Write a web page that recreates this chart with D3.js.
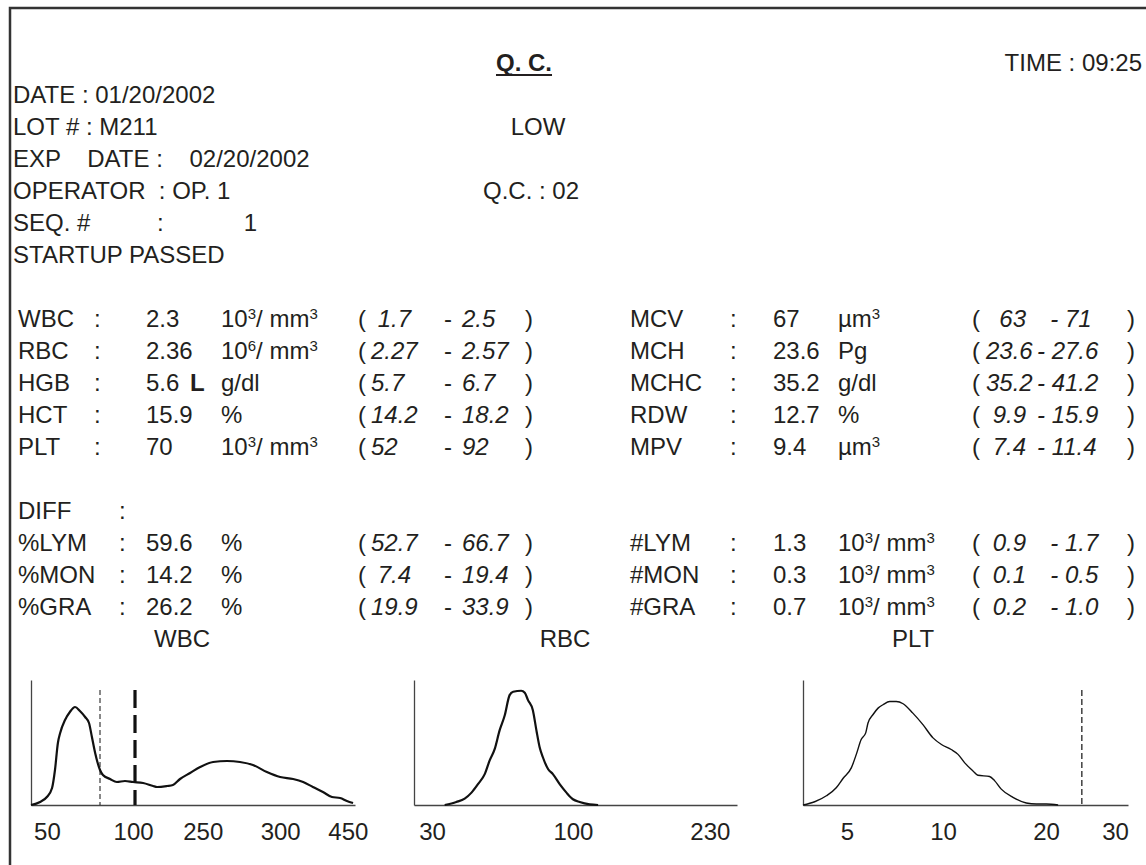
<!DOCTYPE html>
<html><head><meta charset="utf-8">
<script src="https://cdn.jsdelivr.net/npm/d3@7"></script>
<style>
body{margin:0;background:#fff}
text{font-family:"Liberation Sans",Arial,Helvetica,sans-serif;fill:#231f20;white-space:pre}
</style>
</head><body>
<svg id="c" width="1146" height="865" xml:space="preserve"></svg>
<script>
// ---------- header ----------
const reportTitle = "Q. C.";
const reportTime = "TIME : 09:25";
const headerLines = ["DATE : 01/20/2002", "LOT # : M211", "EXP    DATE :    02/20/2002", "OPERATOR  : OP. 1", "SEQ. #          :            1", "STARTUP PASSED"];
const controlLevel = "LOW";
const controlNo = "Q.C. : 02";

// ---------- CBC parameters ----------
const cbcLabels = ["WBC", "RBC", "HGB", "HCT", "PLT"];
const cbcValues = ["2.3", "2.36", "5.6", "15.9", "70"];
const cbcFlags = ["", "", "L", "", ""];
const cbcUnits = ["10^3/ mm^3", "10^6/ mm^3", "g/dl", "%", "10^3/ mm^3"];
const cbcLow = [" 1.7", "2.27", "5.7", "14.2", "52"];
const cbcHigh = ["2.5", "2.57", "6.7", "18.2", "92"];

const idxLabels = ["MCV", "MCH", "MCHC", "RDW", "MPV"];
const idxValues = ["67", "23.6", "35.2", "12.7", "9.4"];
const idxUnits = ["µm^3", "Pg", "g/dl", "%", "µm^3"];
const idxLow = ["  63", "23.6", "35.2", " 9.9", " 7.4"];
const idxHigh = ["  - 71", "- 27.6", "- 41.2", "- 15.9", "- 11.4"];

// ---------- differential ----------
const diffLabels = ["%LYM", "%MON", "%GRA"];
const diffValues = ["59.6", "14.2", "26.2"];
const diffUnits = ["%", "%", "%"];
const diffLow = ["52.7", " 7.4", "19.9"];
const diffHigh = ["66.7", "19.4", "33.9"];

const absLabels = ["#LYM", "#MON", "#GRA"];
const absValues = ["1.3", "0.3", "0.7"];
const absUnits = ["10^3/ mm^3", "10^3/ mm^3", "10^3/ mm^3"];
const absLow = [" 0.9", " 0.1", " 0.2"];
const absHigh = ["  - 1.7", "  - 0.5", "  - 1.0"];

// ---------- histograms (channel 0-100 along axis, relative count 0-100) ----------
const wbcChannel = [0, 2.8, 4.9, 6.5, 7.4, 8.3, 9.0, 10.5, 12.0, 13.6, 15.1, 16.7, 17.9, 18.8, 19.8, 21.3, 22.2, 24.4, 26.5, 29.0, 31.5, 34.6, 37.7, 38.9, 42.0, 43.8, 46.0, 49.1, 52.2, 56.2, 60.5, 64.5, 68.5, 72.8, 76.9, 80.9, 84.0, 87.0, 90.1, 92.9, 95.4, 97.5, 99.4];
const wbcCount = [0, 2.4, 6.4, 13.6, 28, 49.6, 57.6, 68, 74.4, 78.4, 75.2, 70.4, 65.6, 54.4, 41.6, 28, 24, 20.8, 18.4, 19.2, 18.4, 17.6, 15.2, 14.4, 15.2, 16, 20.8, 25.6, 30.4, 34.4, 35.2, 34.4, 32, 26.4, 22.4, 20.8, 18.4, 14.4, 10.4, 6.4, 5.6, 3.2, 1.6];
const wbcTickLabels = ["50", "100", "250", "300", "450"];
const wbcTickChannel = [4.9, 31.5, 53, 76.9, 97.8];
const wbcThinMarker = 21.3;
const wbcThickMarker = 32.1;

const rbcChannel = [9.5, 13.1, 15.7, 17.8, 19.8, 21.9, 23.4, 25.0, 26.5, 28.1, 29.6, 30.7, 33.2, 34.3, 35.3, 36.8, 37.9, 38.9, 39.9, 41.5, 43.0, 45.1, 47.2, 49.2, 51.3, 54.4, 57.0];
const rbcCount = [0, 2.4, 5.1, 9.9, 16.7, 24.7, 35.5, 44.9, 59.7, 71.8, 87.9, 90.6, 91.4, 89.8, 83.9, 75.8, 59.7, 46.2, 38.2, 28.8, 24.7, 16.7, 9.9, 4.6, 2.4, 0.5, 0];
const rbcTickLabels = ["30", "100", "230"];
const rbcTickChannel = [5.6, 49.2, 91.6];

const pltChannel = [0, 3.6, 7.2, 10.3, 12.3, 14.9, 16.4, 17.9, 19.3, 20.0, 21.5, 23.1, 24.6, 26.7, 28.7, 30.8, 33.8, 36.9, 40.0, 42.6, 45.6, 47.7, 49.7, 52.3, 53.8, 57.4, 59.0, 61.0, 64.6, 68.7, 71.8, 74.9, 78.5];
const pltCount = [0, 2.6, 7.4, 14.0, 21.2, 29.9, 40.5, 52.4, 57.7, 65.6, 72.2, 77.5, 80.2, 82.8, 82.8, 81.0, 73.5, 64.3, 53.7, 48.4, 44.4, 40.5, 33.9, 27.2, 23.8, 22.8, 19.3, 12.7, 6.1, 1.6, 0.8, 0.8, 0];
const pltTickLabels = ["5", "10", "20", "30"];
const pltTickChannel = [13.5, 43.1, 74.8, 96];
const pltMarker = 85.8;

// =====================================================
const svg = d3.select("#c");
const FS = 24;
const rowY = r => 71 + 32 * r;

// frame
svg.append("path").attr("d", "M10,865 L10,8 L1146,8")
  .attr("fill", "none").attr("stroke", "#333").attr("stroke-width", 2.5);

function txt(x, y, s, opts = {}) {
  const t = svg.append("text").attr("x", x).attr("y", y).attr("font-size", opts.size || FS)
    .attr("text-anchor", opts.anchor || "start").attr("xml:space", "preserve");
  if (opts.bold) t.attr("font-weight", "bold");
  if (opts.italic) t.attr("font-style", "italic");
  const parts = String(s).split(/\^(\d)/);
  let cur = 0;
  parts.forEach((p, i) => {
    if (!p) return;
    const sup = i % 2 === 1;
    const target = sup ? -8 : 0;
    const ts = t.append("tspan").text(p).attr("dy", target - cur);
    if (sup) ts.attr("font-size", 15);
    cur = target;
  });
  return t;
}

// header
const title = txt(524, rowY(0), reportTitle, { bold: true, anchor: "middle" });
const bb = title.node().getBBox();
svg.append("line").attr("x1", bb.x).attr("x2", bb.x + bb.width)
  .attr("y1", rowY(0) + 4).attr("y2", rowY(0) + 4).attr("stroke", "#231f20").attr("stroke-width", 2);
txt(1142, rowY(0), reportTime, { anchor: "end" });
headerLines.forEach((s, i) => txt(13, rowY(1 + i), s));
txt(538, rowY(2), controlLevel, { anchor: "middle" });
txt(483, rowY(4), controlNo);

// parameter table helpers
function leftRow(r, label, colonX, value, flag, unit, lo, hi) {
  const y = rowY(r);
  txt(18, y, label); txt(colonX, y, ":"); txt(146, y, value);
  if (flag) txt(190, y, flag, { bold: true });
  txt(221, y, unit);
  txt(358, y, "("); txt(371, y, lo, { italic: true }); txt(444, y, "-");
  txt(462, y, hi, { italic: true }); txt(525, y, ")");
}
function rightRow(r, label, value, unit, lo, hi) {
  const y = rowY(r);
  txt(630, y, label); txt(730, y, ":"); txt(773, y, value); txt(838, y, unit);
  txt(972, y, "("); txt(986, y, lo, { italic: true }); txt(1037, y, hi, { italic: true });
  txt(1127, y, ")");
}
cbcLabels.forEach((l, i) => leftRow(8 + i, l, 94, cbcValues[i], cbcFlags[i], cbcUnits[i], cbcLow[i], cbcHigh[i]));
idxLabels.forEach((l, i) => rightRow(8 + i, l, idxValues[i], idxUnits[i], idxLow[i], idxHigh[i]));
txt(18, rowY(14), "DIFF"); txt(119, rowY(14), ":");
diffLabels.forEach((l, i) => leftRow(15 + i, l, 119, diffValues[i], "", diffUnits[i], diffLow[i], diffHigh[i]));
absLabels.forEach((l, i) => rightRow(15 + i, l, absValues[i], absUnits[i], absLow[i], absHigh[i]));

// histograms
const histTop = 680, histBase = 805;
function histogram(name, x0, x1, titleX, ch, cnt, tickCh, tickLab, width, markers) {
  const x = d3.scaleLinear().domain([0, 100]).range([x0, x1]);
  const y = d3.scaleLinear().domain([0, 100]).range([histBase, histTop]);
  txt(titleX, rowY(18), name, { anchor: "middle" });
  const g = svg.append("g");
  const ax = g.append("g").attr("transform", `translate(0,${histBase})`)
    .call(d3.axisBottom(x).tickValues(tickCh).tickFormat((d, i) => tickLab[i]).tickSize(0).tickSizeOuter(0).tickPadding(18));
  ax.select(".domain").attr("stroke", "#444").attr("stroke-width", 1.3);
  ax.selectAll("text").attr("font-size", FS).attr("font-family", null).style("fill", "#231f20");
  const ay = g.append("g").attr("transform", `translate(${x0},0)`)
    .call(d3.axisLeft(y).tickValues([]).tickSizeOuter(0));
  ay.select(".domain").attr("stroke", "#444").attr("stroke-width", 1.3);
  (markers || []).forEach(m => {
    g.append("line").attr("x1", x(m.ch)).attr("x2", x(m.ch)).attr("y1", y(92)).attr("y2", histBase)
      .attr("stroke", "#111").attr("stroke-width", m.w).attr("stroke-dasharray", m.dash);
  });
  const line = d3.line().x((d, i) => x(ch[i])).y(d => y(d)).curve(d3.curveMonotoneX);
  g.append("path").attr("d", line(cnt)).attr("fill", "none").attr("stroke", "#111")
    .attr("stroke-width", width).attr("stroke-linejoin", "round");
}
histogram("WBC", 31, 355, 182, wbcChannel, wbcCount, wbcTickChannel, wbcTickLabels, 2.2,
  [{ ch: wbcThinMarker, w: 1, dash: "5,3" }, { ch: wbcThickMarker, w: 3.2, dash: "18,7" }]);
histogram("RBC", 414, 737, 565, rbcChannel, rbcCount, rbcTickChannel, rbcTickLabels, 2.2, []);
histogram("PLT", 803, 1128, 913, pltChannel, pltCount, pltTickChannel, pltTickLabels, 1.4,
  [{ ch: pltMarker, w: 1.2, dash: "6,3" }]);
</script>
</body></html>
